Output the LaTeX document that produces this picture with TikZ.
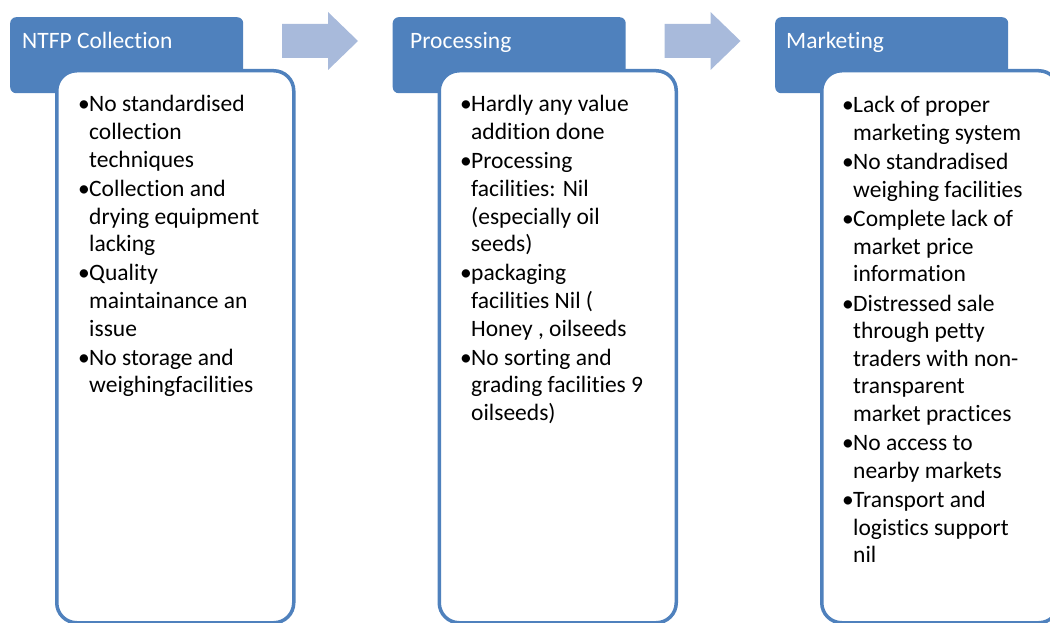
\documentclass[tikz,border=0pt]{standalone}
\usepackage{fontspec}
\setmainfont{Carlito}[Ligatures=NoCommon]
\definecolor{accent}{RGB}{79,129,189}
\definecolor{flow}{RGB}{168,186,219}
\tikzset{
  headbox/.style={fill=accent, draw=none, rounded corners=6pt, minimum width=233pt,
    minimum height=76pt, anchor=north west, inner sep=0pt},
  bodybox/.style={fill=white, draw=accent, line width=3.5pt, rounded corners=20pt,
    minimum width=237pt, minimum height=552pt, anchor=north west, inner sep=0pt},
  headtext/.style={anchor=base west, text=white, inner sep=0pt,
    font=\fontsize{23.5pt}{28pt}\selectfont},
  listtext/.style={anchor=base west, inner sep=0pt},
  flowarrow/.style={fill=flow, draw=none}
}
% one bullet item with hanging indent
\newcommand\bitem[1]{\par\hangindent=11pt\hangafter=1\makebox[11pt][l]{•}#1}
% a bullet list whose baseline is its first line
\newcommand\blist[1]{\parbox[t]{300pt}{\fontsize{23.5pt}{27.65pt}\selectfont
  \setlength\parindent{0pt}\setlength\parskip{1.5pt}#1}}
\begin{document}
\begin{tikzpicture}[x=1pt,y=-1pt]
\useasboundingbox (0,0) rectangle (1050,623);
\clip (0,0) rectangle (1050,623);

% headers
\node[headbox] (h1) at (10,17) {};
\node[headbox] (h2) at (392.5,17) {};
\node[headbox] (h3) at (775,17) {};

% flow arrows between stages
\foreach \dx in {0,382.5}{
  \begin{scope}[xshift=\dx pt]
    \fill[flowarrow] (282,24) -- (328,24) -- (328,12) -- (358,41)
      -- (328,70) -- (328,58) -- (282,58) -- cycle;
  \end{scope}
}

% body panels
\node[bodybox] (b1) at (55,69) {};
\node[bodybox] (b2) at (437.5,69) {};
\node[bodybox] (b3) at (820,69) {};

% header labels
\node[headtext] (l1) at (22,49) {NTFP Collection};
\node[headtext] (l2) at (410,49) {Processing};
\node[headtext] (l3) at (786,49) {Marketing};

% bullet lists
\node[listtext] (t1) at (78,112) {\blist{%
  \bitem{No standardised\newline collection\newline techniques}
  \bitem{Collection and\newline drying equipment\newline lacking}
  \bitem{Quality\newline maintainance an\newline issue}
  \bitem{No storage and\newline weighingfacilities}}};

\node[listtext] (t2) at (460,112) {\blist{%
  \bitem{Hardly any value\newline addition done}
  \bitem{Processing\newline facilities: Nil\newline (especially oil\newline seeds)}
  \bitem{packaging\newline facilities Nil (\newline Honey , oilseeds}
  \bitem{No sorting and\newline grading facilities 9\newline oilseeds)}}};

\node[listtext] (t3) at (842,113) {\blist{%
  \bitem{Lack of proper\newline marketing system}
  \bitem{No standradised\newline weighing facilities}
  \bitem{Complete lack of\newline market price\newline information}
  \bitem{Distressed sale\newline through petty\newline traders with non-\newline transparent\newline market practices}
  \bitem{No access to\newline nearby markets}
  \bitem{Transport and\newline logistics support\newline nil}}};
\end{tikzpicture}
\end{document}
